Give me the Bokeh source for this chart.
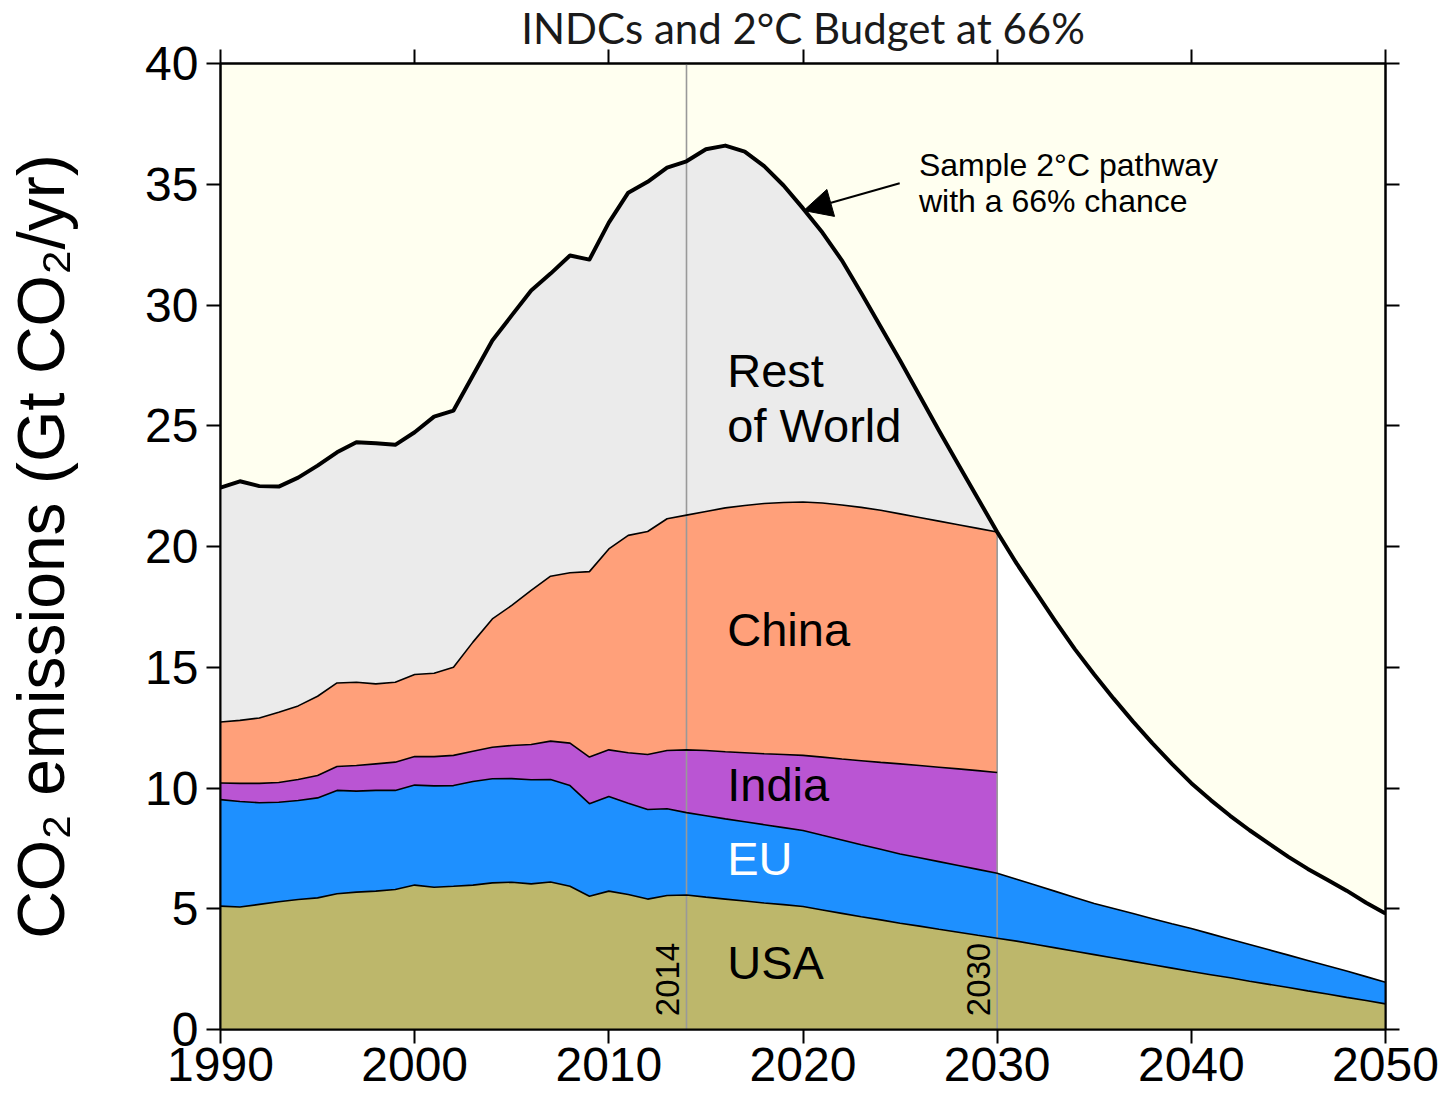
import numpy as np
from bokeh.plotting import figure
from bokeh.models import Range1d, LinearAxis, FixedTicker, Label, Arrow, NormalHead
from bokeh.embed import file_html
from bokeh.resources import INLINE

# ---------------- data (Gt CO2 / yr) ----------------
years = list(range(1990, 2051))            # 61 years
indc_years = list(range(1990, 2031))       # 41 years (India, China, Rest of World)

usa = [5.11, 5.07, 5.18, 5.29, 5.38, 5.45, 5.62, 5.69, 5.73, 5.80, 5.98, 5.89, 5.93,
       5.98, 6.07, 6.10, 6.03, 6.11, 5.93, 5.52, 5.73, 5.59, 5.40, 5.55, 5.57,
       5.48, 5.40, 5.32, 5.24, 5.17, 5.09, 4.95, 4.81, 4.67, 4.54, 4.40, 4.28, 4.15,
       4.03, 3.90, 3.78,
       3.66, 3.52, 3.38, 3.24, 3.10, 2.96, 2.82, 2.68, 2.54, 2.40, 2.27, 2.14, 2.00,
       1.87, 1.74, 1.60, 1.47, 1.33, 1.20, 1.06]

eu = [4.41, 4.37, 4.21, 4.12, 4.10, 4.14, 4.28, 4.18, 4.17, 4.10, 4.14, 4.20, 4.17,
      4.29, 4.31, 4.29, 4.31, 4.24, 4.17, 3.83, 3.92, 3.78, 3.71, 3.59, 3.41,
      3.37, 3.32, 3.28, 3.24, 3.19, 3.15, 3.09, 3.04, 2.98, 2.92, 2.87, 2.83, 2.80,
      2.76, 2.73, 2.69,
      2.56, 2.45, 2.34, 2.23, 2.12, 2.05, 1.98, 1.91, 1.84, 1.78, 1.69, 1.60, 1.52,
      1.43, 1.34, 1.26, 1.17, 1.09, 0.99, 0.90]

india = [0.69, 0.75, 0.80, 0.82, 0.87, 0.93, 0.99, 1.06, 1.10, 1.17, 1.18, 1.21, 1.25,
         1.25, 1.31, 1.37, 1.46, 1.59, 1.76, 1.93, 1.93, 2.09, 2.28, 2.41, 2.60,
         2.70, 2.78, 2.86, 2.94, 3.03, 3.11, 3.24, 3.35, 3.48, 3.60, 3.73, 3.82, 3.91,
         4.00, 4.09, 4.17]

china = [2.52, 2.61, 2.71, 2.91, 3.05, 3.28, 3.46, 3.45, 3.31, 3.31, 3.40, 3.45, 3.65,
         4.52, 5.31, 5.80, 6.38, 6.83, 7.05, 7.68, 8.32, 9.00, 9.23, 9.60, 9.72,
         9.90, 10.10, 10.24, 10.36, 10.43, 10.49, 10.52, 10.52, 10.49, 10.44, 10.35,
         10.27, 10.19, 10.11, 10.03, 9.96]

# global total: observed to 2014, then the sample 2°C pathway (66% chance)
total = [22.44, 22.70, 22.50, 22.48, 22.85, 23.35, 23.90, 24.32, 24.28, 24.21, 24.73,
         25.38, 25.63, 27.08, 28.53, 29.57, 30.60, 31.30, 32.05, 31.88, 33.41, 34.65,
         35.10, 35.69, 35.95,
         36.45, 36.60, 36.35, 35.75, 34.95, 34.00, 33.00, 31.85, 30.50, 29.10, 27.70,
         26.25, 24.80, 23.40, 22.00, 20.60,
         19.30, 18.10, 16.90, 15.75, 14.70, 13.70, 12.75, 11.85, 11.00, 10.20, 9.50,
         8.85, 8.25, 7.70, 7.15, 6.65, 6.20, 5.75, 5.25, 4.80]

region_names = ["USA", "EU", "India", "China", "Rest of World"]
region_colors = ["#BDB76B", "#1E90FF", "#BA55D3", "#FFA07A", "#EBEBEB"]
x_ticks = [1990, 2000, 2010, 2020, 2030, 2040, 2050]
y_ticks = [0, 5, 10, 15, 20, 25, 30, 35, 40]
marker_years = [2014, 2030]

# ---------------- stacking ----------------
yrs = np.array(years, dtype=float)
iy = np.array(indc_years, dtype=float)
n = len(indc_years)
usa_a = np.array(usa)
eu_a = np.array(eu)
tot_a = np.array(total)
usa_top = usa_a
eu_top = usa_a + eu_a
india_top = eu_top[:n] + np.array(india)
china_top = india_top + np.array(china)
row_top = tot_a[:n]

FONT = "Liberation Sans"

p = figure(width=1440, height=1100, x_range=Range1d(1990, 2050), y_range=Range1d(0, 40),
           output_backend="svg", toolbar_location=None,
           min_border_left=220, min_border_right=55, min_border_top=63, min_border_bottom=71)
p.background_fill_color = "#FFFFF0"
p.border_fill_color = "white"
p.grid.visible = False
p.outline_line_color = "black"
p.outline_line_width = 2

p.title.text = "INDCs and 2°C Budget at 66%"
p.title.align = "center"
p.title.text_font = "Lato"
p.title.text_font_size = "42px"
p.title.text_font_style = "normal"
p.title.text_color = "#1a1a1a"
p.title.standoff = -7

# white area under the total / pathway
p.varea(x=yrs, y1=np.zeros_like(yrs), y2=tot_a, fill_color="white")

# stacked regions
p.varea(x=yrs, y1=np.zeros_like(yrs), y2=usa_top, fill_color=region_colors[0])
p.varea(x=yrs, y1=usa_top, y2=eu_top, fill_color=region_colors[1])
p.varea(x=iy, y1=eu_top[:n], y2=india_top, fill_color=region_colors[2])
p.varea(x=iy, y1=india_top, y2=china_top, fill_color=region_colors[3])
p.varea(x=iy, y1=china_top, y2=row_top, fill_color=region_colors[4])

# vertical marker lines
p.segment(x0=[marker_years[0]], y0=[0], x1=[marker_years[0]], y1=[40],
          line_color="#999999", line_width=1.6)
p.segment(x0=[marker_years[1]], y0=[0], x1=[marker_years[1]], y1=[row_top[-1]],
          line_color="#999999", line_width=1.6)

# boundary lines
for top, xs in [(usa_top, yrs), (eu_top, yrs), (india_top, iy), (china_top, iy)]:
    p.line(xs, top, line_color="black", line_width=1.6)
p.line(yrs, tot_a, line_color="black", line_width=4, line_join="round")

# axes
p.xaxis.ticker = FixedTicker(ticks=x_ticks)
p.yaxis.ticker = FixedTicker(ticks=y_ticks)
for ax in list(p.xaxis) + list(p.yaxis):
    ax.major_tick_out = 14
    ax.major_tick_in = 0
    ax.minor_tick_line_color = None
    ax.axis_line_width = 2
    ax.major_tick_line_width = 2
    ax.major_label_text_font = FONT
    ax.major_label_text_font_size = "48px"
    ax.major_label_text_color = "black"
p.xaxis.major_label_standoff = 4
p.yaxis.major_label_standoff = 8
p.yaxis.axis_label = "CO\u2082 emissions (Gt CO\u2082/yr)"
p.yaxis.axis_label_text_font = FONT
p.yaxis.axis_label_text_font_size = "66px"
p.yaxis.axis_label_text_font_style = "normal"
p.yaxis.axis_label_text_color = "black"
p.yaxis.axis_label_standoff = 64

top_ax = LinearAxis(ticker=FixedTicker(ticks=x_ticks), major_label_text_font_size="1px",
                    major_label_text_color=None,
                    major_tick_out=14, major_tick_in=0, axis_line_width=2,
                    major_tick_line_width=2, minor_tick_line_color=None,
                    major_label_standoff=0)
right_ax = LinearAxis(ticker=FixedTicker(ticks=y_ticks), major_label_text_font_size="1px",
                      major_label_text_color=None,
                      major_tick_out=14, major_tick_in=0, axis_line_width=2,
                      major_tick_line_width=2, minor_tick_line_color=None,
                      major_label_standoff=0)
p.add_layout(top_ax, "above")
p.add_layout(right_ax, "right")

# region labels (y_offset compensates the renderer's baseline placement)
label_x = 2016.1
label_specs = [("Rest", 26.54, "black"), ("of World", 24.27, "black"),
               ("China", 15.83, "black"), ("India", 9.41, "black"),
               ("EU", 6.34, "white"), ("USA", 2.03, "black")]
for txt, yv, col in label_specs:
    p.add_layout(Label(x=label_x, y=yv, y_offset=18, text=txt, text_font=FONT,
                       text_font_size="47px", text_color=col, text_align="left",
                       text_baseline="alphabetic"))

# marker year labels (rotated)
for yr in marker_years:
    p.add_layout(Label(x=yr, y=0.55, x_offset=-19, text=str(yr), angle=np.pi / 2,
                       text_font=FONT, text_font_size="33px", text_color="black",
                       text_align="left", text_baseline="alphabetic"))

# pathway annotation
p.add_layout(Arrow(end=NormalHead(size=28, fill_color="black", line_color="black"),
                   x_start=2024.98, y_start=35.04, x_end=2020.04, y_end=33.91,
                   line_color="black", line_width=2))
p.add_layout(Label(x=2025.97, y=35.29, y_offset=12, text="Sample 2°C pathway",
                   text_font=FONT, text_font_size="32px", text_color="black",
                   text_align="left", text_baseline="alphabetic"))
p.add_layout(Label(x=2025.97, y=33.80, y_offset=12, text="with a 66% chance",
                   text_font=FONT, text_font_size="32px", text_color="black",
                   text_align="left", text_baseline="alphabetic"))

open("out.html", "w").write(file_html(p, INLINE))
